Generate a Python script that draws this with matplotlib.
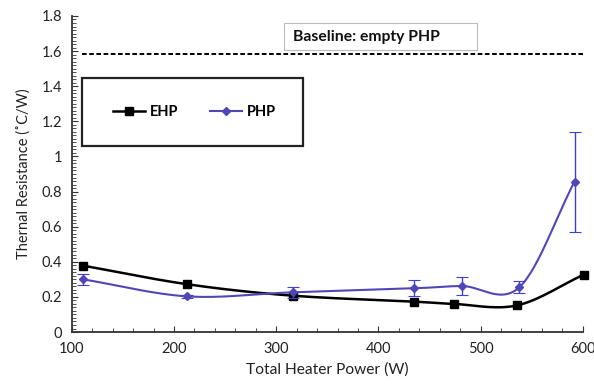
import numpy as np
import matplotlib.pyplot as plt
from matplotlib.patches import Rectangle
from matplotlib.lines import Line2D

# heater power (W) and thermal resistance (C/W)
ehp_power = [111, 213, 316, 435, 474, 536, 601]
ehp_res = [0.378, 0.272, 0.207, 0.173, 0.160, 0.152, 0.327]

php_power = [111, 213, 316, 435, 482, 538, 592]
php_res = [0.300, 0.203, 0.226, 0.249, 0.262, 0.255, 0.857]
php_err = [0.030, 0.010, 0.030, 0.045, 0.050, 0.035, 0.285]

baseline = 1.585

plt.rcParams['font.family'] = ['Lato', 'DejaVu Sans']
PURPLE = '#5046B8'


def smooth(x, y, n=30):
    # Catmull-Rom through the points, like a spreadsheet "smoothed line"
    x = np.asarray(x, float)
    y = np.asarray(y, float)
    sx, sy = 500.0, 1.8
    px = np.concatenate([[2 * x[0] - x[1]], x, [2 * x[-1] - x[-2]]]) / sx
    py = np.concatenate([[2 * y[0] - y[1]], y, [2 * y[-1] - y[-2]]]) / sy
    outx, outy = [], []
    t = np.linspace(0, 1, n)
    for i in range(1, len(px) - 2):
        p0, p1, p2, p3 = [np.array([px[j], py[j]]) for j in (i - 1, i, i + 1, i + 2)]
        c1 = p1 + (p2 - p0) / 6
        c2 = p2 - (p3 - p1) / 6
        b = ((1 - t) ** 3)[:, None] * p1 + (3 * (1 - t) ** 2 * t)[:, None] * c1 \
            + (3 * (1 - t) * t ** 2)[:, None] * c2 + (t ** 3)[:, None] * p2
        outx.extend(b[:, 0])
        outy.extend(b[:, 1])
    return np.array(outx) * sx, np.array(outy) * sy


fig = plt.figure(figsize=(5.94, 3.89), dpi=100)
ax = fig.add_axes([0.121, 0.1465, 0.860, 0.8124])

sx, sy = smooth(ehp_power, ehp_res)
ax.plot(sx, sy, color='black', lw=1.8, zorder=3)
ax.plot(ehp_power, ehp_res, 's', color='black', ms=6, zorder=4, clip_on=False)

sx, sy = smooth(php_power, php_res)
ax.plot(sx, sy, color=PURPLE, lw=1.5, zorder=3)
ax.errorbar(php_power, php_res, yerr=php_err, fmt='D', color=PURPLE, ms=4,
            ecolor='#4040D0', elinewidth=1, capsize=4, capthick=0.8, zorder=5)

ax.plot([110, 600], [baseline, baseline], ls=(0, (2.4, 1.3)), color='black', lw=1.4)

ax.set_xlim(100, 600)
ax.set_ylim(0, 1.8)
ax.set_xticks(np.arange(100, 601, 100))
ax.set_xticks(np.arange(100, 601, 20), minor=True)
ax.set_yticks(np.arange(0, 1.81, 0.2))
ax.set_yticks(np.arange(0, 1.81, 0.02), minor=True)
ax.set_yticklabels(['0', '0.2', '0.4', '0.6', '0.8', '1', '1.2', '1.4', '1.6', '1.8'])
for side in ('top', 'right'):
    ax.spines[side].set_visible(False)
for side in ('left', 'bottom'):
    ax.spines[side].set_color('#333333')
    ax.spines[side].set_linewidth(1.3)
ax.tick_params(which='both', direction='in', color='#333333')
ax.tick_params(which='major', length=4, labelsize=10.5, colors='#333333', labelcolor='#222222', pad=7)
ax.tick_params(which='minor', length=3)
ax.set_xlabel('Total Heater Power (W)', fontsize=11.2, color='#222222', labelpad=5)
ax.set_ylabel('Thernal Resistance (\u02daC/W)', fontsize=10.5, color='#222222', labelpad=8)

# legend drawn inside a hand-placed frame
ax.add_patch(Rectangle((0.0196, 0.589), 0.432, 0.215, transform=ax.transAxes,
                       fill=False, ec='#222222', lw=1.6, zorder=6))
handles = [Line2D([], [], color='black', marker='s', ms=6, lw=1.8),
           Line2D([], [], color=PURPLE, marker='D', ms=4, lw=1.5)]
ax.legend(handles, ['EHP', 'PHP'], ncol=2, frameon=False, loc='center left',
          bbox_to_anchor=(0.055, 0.695), handlelength=2.2, handletextpad=0.3,
          columnspacing=2.2, prop={'weight': 'bold', 'size': 10.5})

# baseline label box
ax.add_patch(Rectangle((0.415, 0.892), 0.378, 0.086, transform=ax.transAxes,
                       fc='white', ec='#bbbbbb', lw=0.8, zorder=6))
ax.text(0.432, 0.935, 'Baseline: empty PHP', transform=ax.transAxes, fontsize=11.3,
        fontweight='bold', color='#111111', va='center', zorder=7)

fig.savefig('out.png', dpi=100)
